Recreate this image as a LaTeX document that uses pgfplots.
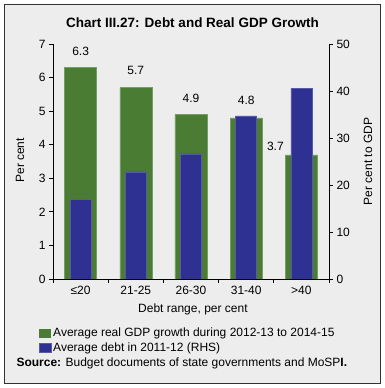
\documentclass[border=0pt]{standalone}
\usepackage{fontspec}
\setmainfont{Liberation Sans}
\usepackage{pgfplots}
\pgfplotsset{compat=1.18}
\definecolor{bg}{HTML}{EDEDED}
\definecolor{gbar}{HTML}{4A7C34}
\definecolor{bbar}{HTML}{2E3192}
\newcommand{\fs}{\fontsize{12bp}{14bp}\selectfont}
\pgfplotsset{
  mylegend/.style={legend image code/.code={\fill[##1] (0bp,-4.5bp) rectangle (12bp,4.5bp);}},
  common/.style={
    width=276bp, height=235bp, scale only axis,
    at={(53bp,109bp)}, anchor=south west,
    xmin=-0.5, xmax=4.5,
    tick align=outside, major tick length=4bp,
    /pgf/number format/assume math mode=true,
    tick label style={font=\fs},
    label style={font=\fs},
    axis line style={line width=0.8bp},
    tick style={line width=0.8bp, black},
  }
}
\begin{document}
\begin{tikzpicture}[x=1bp,y=1bp]
\fill[white] (0,0) rectangle (385,388);
\fill[bg] (4.5,5) rectangle (380.5,383.5);
\draw[line width=1bp, black!80] (4.5,5) rectangle (380.5,383.5);
\node[font=\fontsize{13.5bp}{16bp}\selectfont\bfseries] at (192.5,365) {Chart III.27: Debt and Real GDP Growth};

\begin{axis}[common,
  ymin=0, ymax=7, ytick={0,1,...,7},
  axis x line*=bottom, axis y line*=left,
  xtick={-0.5,0.5,...,4.5}, xticklabels={},
  extra x ticks={0,1,2,3,4},
  extra x tick labels={≤20,21-25,26-30,31-40,>40},
  extra x tick style={tick style={draw=none}},
  ylabel={Per cent},
  ylabel style={at={(axis description cs:-0.119,0.505)}, anchor=center},
  xlabel={Debt range, per cent},
  xlabel style={at={(axis description cs:0.507,-0.13)}, anchor=center},
]
\addplot[ybar, bar width=32bp, bar shift=0pt, fill=gbar, draw=gbar!75!white, line width=0.5bp]
  coordinates {(0,6.3) (1,5.7) (2,4.9) (3,4.8) (4,3.7)};
\node[font=\fs, yshift=16bp] at (axis cs:0,6.3) {6.3};
\node[font=\fs, yshift=17bp] at (axis cs:1,5.7) {5.7};
\node[font=\fs, yshift=16.5bp] at (axis cs:2,4.9) {4.9};
\node[font=\fs, yshift=17bp] at (axis cs:3,4.8) {4.8};
\node[font=\fs, yshift=8bp, xshift=-26bp] at (axis cs:4,3.7) {3.7};
\end{axis}

\begin{axis}[common,
  ymin=0, ymax=50, ytick={0,10,...,50},
  axis y line*=right, axis x line=none,
  ylabel={Per cent to GDP},
  ylabel style={at={(axis description cs:1.141,0.5)}, anchor=center},
  legend style={at={(axis description cs:-0.056,-0.195)}, anchor=north west,
    draw=none, fill=none, font=\fs,
    row sep=0.5bp, inner sep=1bp, legend cell align=left,
    nodes={inner xsep=2bp}},
  legend cell align=left,
]
\addlegendimage{mylegend, fill=gbar, draw=none}
\addlegendentry{Average real GDP growth during 2012-13 to 2014-15}
\addplot[ybar, bar width=21bp, bar shift=0pt, fill=bbar, draw=bbar!80!white, line width=0.5bp, mylegend]
  coordinates {(0,17) (1,22.8) (2,26.6) (3,34.7) (4,40.5)};
\addlegendentry{Average debt in 2011-12 (RHS)}
\end{axis}

\node[anchor=west, font=\fs] at (13,25) {\textbf{Source:} Budget documents of state governments and MoSP\textbf{I.}};
\end{tikzpicture}
\end{document}
